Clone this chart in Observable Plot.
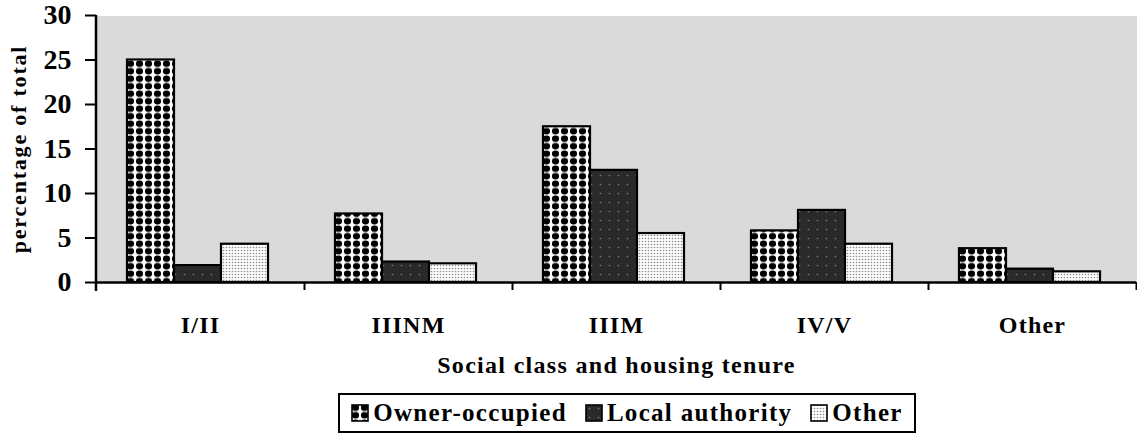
<!DOCTYPE html>
<html>
<head>
<meta charset="utf-8">
<script src="https://cdn.jsdelivr.net/npm/d3@7"></script>
<script src="https://cdn.jsdelivr.net/npm/@observablehq/plot@0.6"></script>
<style>
  body { margin: 0; background: #fff; font-family: "Liberation Serif", "Times New Roman", serif; }
  #wrap { position: relative; width: 1137px; height: 441px; }
  #chart [aria-label="y-axis label"] text { font-size: 22px; letter-spacing: 1.8px; }
  #chart [aria-label="fx-axis label"] text { font-size: 24px; letter-spacing: 1.3px; }
  #chart [aria-label="fx-axis tick label"] text { letter-spacing: 1.2px; }
  #legend {
    position: absolute; left: 338px; top: 393px; width: 578px; height: 40px;
    box-sizing: border-box; border: 2px solid #000;
    display: flex; align-items: center; justify-content: center; gap: 18px;
    font-size: 25px; font-weight: bold; letter-spacing: 1.3px;
  }
  #legend .item { display: flex; align-items: center; gap: 4px; }
  #legend svg { display: block; }
</style>
</head>
<body>
<div id="wrap">
  <div id="chart"></div>
  <div id="legend"></div>
</div>
<svg width="0" height="0" style="position:absolute">
  <defs>
    <pattern id="pat-own" patternUnits="userSpaceOnUse" width="9" height="7.5">
      <rect width="9" height="7.5" fill="#fff"/>
      <ellipse cx="4.5" cy="3.75" rx="3.6" ry="3.2" fill="#000"/>
    </pattern>
    <pattern id="pat-local" patternUnits="userSpaceOnUse" width="9" height="9">
      <rect width="9" height="9" fill="#2a2a2a"/>
      <circle cx="4.5" cy="4.5" r="0.85" fill="#7a7a7a"/>
    </pattern>
    <pattern id="pat-other" patternUnits="userSpaceOnUse" width="3" height="3">
      <rect width="3" height="3" fill="#fff"/>
      <circle cx="1.5" cy="1.5" r="0.8" fill="#8a8a8a"/>
    </pattern>
  </defs>
</svg>
<script>
// ---- data ----
const categories = ["I/II", "IIINM", "IIIM", "IV/V", "Other"];
const tenures = ["Owner-occupied", "Local authority", "Other"];
const ownerOccupied = [25.0, 7.7, 17.5, 5.8, 3.8];
const localAuthority = [1.9, 2.3, 12.6, 8.1, 1.5];
const otherTenure = [4.3, 2.1, 5.5, 4.3, 1.2];
const yTicks = [0, 5, 10, 15, 20, 25, 30];
const xTitle = "Social class and housing tenure";
const yTitle = "percentage of total";

const patterns = ["url(#pat-own)", "url(#pat-local)", "url(#pat-other)"];
const seriesValues = [ownerOccupied, localAuthority, otherTenure];
const data = categories.flatMap((c, i) =>
  tenures.map((t, j) => ({category: c, tenure: t, value: seriesValues[j][i]}))
);

const W = 1137, H = 385, ML = 96, MR = 1, MT = 15, MB = 103;
const bandW = (W - ML - MR) / categories.length;

const plot = Plot.plot({
  width: W, height: H,
  marginLeft: ML, marginRight: MR, marginTop: MT, marginBottom: MB,
  style: {fontFamily: "'Liberation Serif', 'Times New Roman', serif", fontWeight: "bold", color: "#000", background: "transparent", overflow: "visible"},
  fx: {domain: categories, padding: 0},
  x: {domain: tenures, paddingInner: 0, paddingOuter: 0.71, align: 0.46, axis: null},
  y: {domain: [0, 30]},
  color: {domain: tenures, range: patterns},
  marks: [
    Plot.frame({fill: "#dadada", stroke: "none", shapeRendering: "crispEdges"}),
    Plot.barY(data, {fx: "category", x: "tenure", y: "value", fill: "tenure", stroke: "#000", strokeWidth: 2.2}),
    Plot.ruleY([0], {stroke: "#000", strokeWidth: 2.5}),
    Plot.axisY({ticks: yTicks, tickSize: 11, tickPadding: 14, fontSize: 28, strokeWidth: 2,
      label: yTitle, labelArrow: "none", labelAnchor: "center", labelOffset: 86}),
    Plot.axisFx({anchor: "bottom", tickSize: 0, tickPadding: 33, fontSize: 24,
      label: xTitle, labelArrow: "none", labelAnchor: "center", labelOffset: 90}),
    Plot.axisFx({anchor: "bottom", tickSize: 8, strokeWidth: 2, tickFormat: () => "", label: null, dx: bandW / 2})
  ]
});

// y-axis line drawn from the library's y scale
const ys = plot.scale("y");
d3.select(plot).append("line")
  .attr("x1", ML).attr("x2", ML)
  .attr("y1", ys.apply(30)).attr("y2", ys.apply(0) + 9)
  .attr("stroke", "#000").attr("stroke-width", 2.5);

document.getElementById("chart").append(plot);

// legend
const legend = d3.select("#legend");
tenures.forEach((t, j) => {
  const item = legend.append("span").attr("class", "item");
  const s = item.append("svg").attr("width", 18).attr("height", 18);
  s.append("rect").attr("x", 1).attr("y", 1).attr("width", 16).attr("height", 16)
    .attr("fill", patterns[j]).attr("stroke", "#000").attr("stroke-width", 1.6);
  item.append("span").text(t);
});
</script>
</body>
</html>
